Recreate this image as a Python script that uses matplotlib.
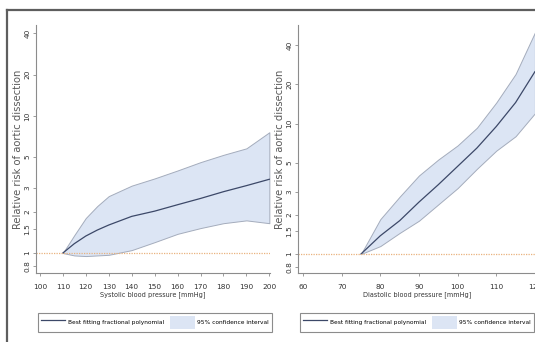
import matplotlib
matplotlib.use("Agg")
import matplotlib.pyplot as plt
from matplotlib.lines import Line2D
from matplotlib.patches import Patch
from matplotlib import font_manager

names = {f.name for f in font_manager.fontManager.ttflist}
fams = [f for f in ["Liberation Sans Narrow", "DejaVu Sans Condensed", "DejaVu Sans"] if f in names]
plt.rcParams["font.family"] = fams

# systolic panel
sbp = [110, 115, 120, 125, 130, 140, 150, 160, 170, 180, 190, 200]
sbp_rr = [1.0, 1.17, 1.33, 1.47, 1.6, 1.85, 2.02, 2.25, 2.5, 2.8, 3.1, 3.45]
sbp_hi = [1.0, 1.35, 1.8, 2.2, 2.6, 3.1, 3.5, 4.0, 4.6, 5.2, 5.8, 7.6]
sbp_lo = [1.0, 0.96, 0.95, 0.96, 0.97, 1.05, 1.2, 1.38, 1.52, 1.65, 1.73, 1.65]

# diastolic panel
dbp = [75, 80, 85, 90, 95, 100, 105, 110, 115, 120]
dbp_rr = [1.0, 1.38, 1.8, 2.5, 3.4, 4.7, 6.5, 9.5, 14.5, 25.0]
dbp_hi = [1.0, 1.85, 2.75, 4.0, 5.3, 6.8, 9.3, 14.5, 24.0, 50.0]
dbp_lo = [1.0, 1.15, 1.45, 1.8, 2.4, 3.2, 4.5, 6.2, 8.0, 12.0]

yticks = [0.8, 1, 1.5, 2, 3, 5, 10, 20, 40]
yticklabels = ["0.8", "1", "1.5", "2", "3", "5", "10", "20", "40"]
sbp_ticks = list(range(100, 201, 10))
dbp_ticks = list(range(60, 121, 10))

FILL = "#dce5f4"
EDGE = "#a4acbc"
LINE = "#3c4868"
REF = "#e9b27e"
AX = "#8c8c8c"
TXT = "#333333"
FS = 5.3
XFS = 4.7
YFS = 7.2
LFS = 4.2

fig = plt.figure(figsize=(5.35, 3.42), dpi=100)


def panel(rect, leg_x, x, rr, lo, hi, xlim, ylim, xticks, xlabel):
    ax = fig.add_axes(rect)
    ax.fill_between(x, lo, hi, facecolor=FILL, edgecolor=EDGE, linewidth=0.7)
    ax.plot(x, rr, color=LINE, linewidth=0.9)
    ax.axhline(1, color=REF, linestyle=(0, (1, 1)), linewidth=0.9)
    ax.set_yscale("log")
    ax.set_xlim(*xlim)
    ax.set_ylim(*ylim)
    ax.set_yticks(yticks)
    ax.set_yticklabels(yticklabels, rotation=90, va="center")
    ax.minorticks_off()
    ax.set_xticks(xticks)
    for s in ["top", "right"]:
        ax.spines[s].set_visible(False)
    for s in ["left", "bottom"]:
        ax.spines[s].set_color(AX)
        ax.spines[s].set_linewidth(0.8)
    ax.tick_params(axis="both", labelsize=FS, length=2.5, width=0.6,
                   color=AX, pad=1.5, labelcolor=TXT)
    ax.tick_params(axis="x", pad=5.5)
    ax.set_xlabel(xlabel, fontsize=XFS, labelpad=0.5, color=TXT)
    ax.set_ylabel("Relative risk of aortic dissection", fontsize=YFS,
                  labelpad=1, color="#5a5a5a")
    handles = [Line2D([], [], color=LINE, linewidth=0.9),
               Patch(facecolor=FILL, edgecolor="none")]
    leg = fig.legend(handles, ["Best fitting fractional polynomial",
                               "95% confidence interval"],
                     loc="center left",
                     bbox_to_anchor=(leg_x / 535, 1 - 322.5 / 342),
                     bbox_transform=fig.transFigure,
                     ncol=2, fontsize=LFS, frameon=True,
                     fancybox=False, edgecolor="#707070", handlelength=4.2,
                     handleheight=3.3, borderpad=0.45, borderaxespad=0,
                     columnspacing=1.0, handletextpad=0.5)
    leg.get_frame().set_linewidth(0.8)
    return ax


panel([0.0673, 0.2018, 0.437, 0.725], 38, sbp, sbp_rr, sbp_lo,
      sbp_hi, (98.3, 200.2), (0.715, 46), sbp_ticks,
      "Systolic blood pressure [mmHg]")
panel([0.557, 0.2018, 0.445, 0.725], 300, dbp, dbp_rr, dbp_lo,
      dbp_hi, (58.7, 120.3), (0.715, 57), dbp_ticks,
      "Diastolic blood pressure [mmHg]")

# outer frame (cut at right and bottom)
fig.add_artist(Line2D([7 / 535, 1], [1 - 10 / 342] * 2, transform=fig.transFigure,
                      color="#5e5e5e", linewidth=1.6))
fig.add_artist(Line2D([7 / 535] * 2, [0, 1 - 10 / 342], transform=fig.transFigure,
                      color="#5e5e5e", linewidth=1.6))

fig.savefig("out.png", dpi=100)
